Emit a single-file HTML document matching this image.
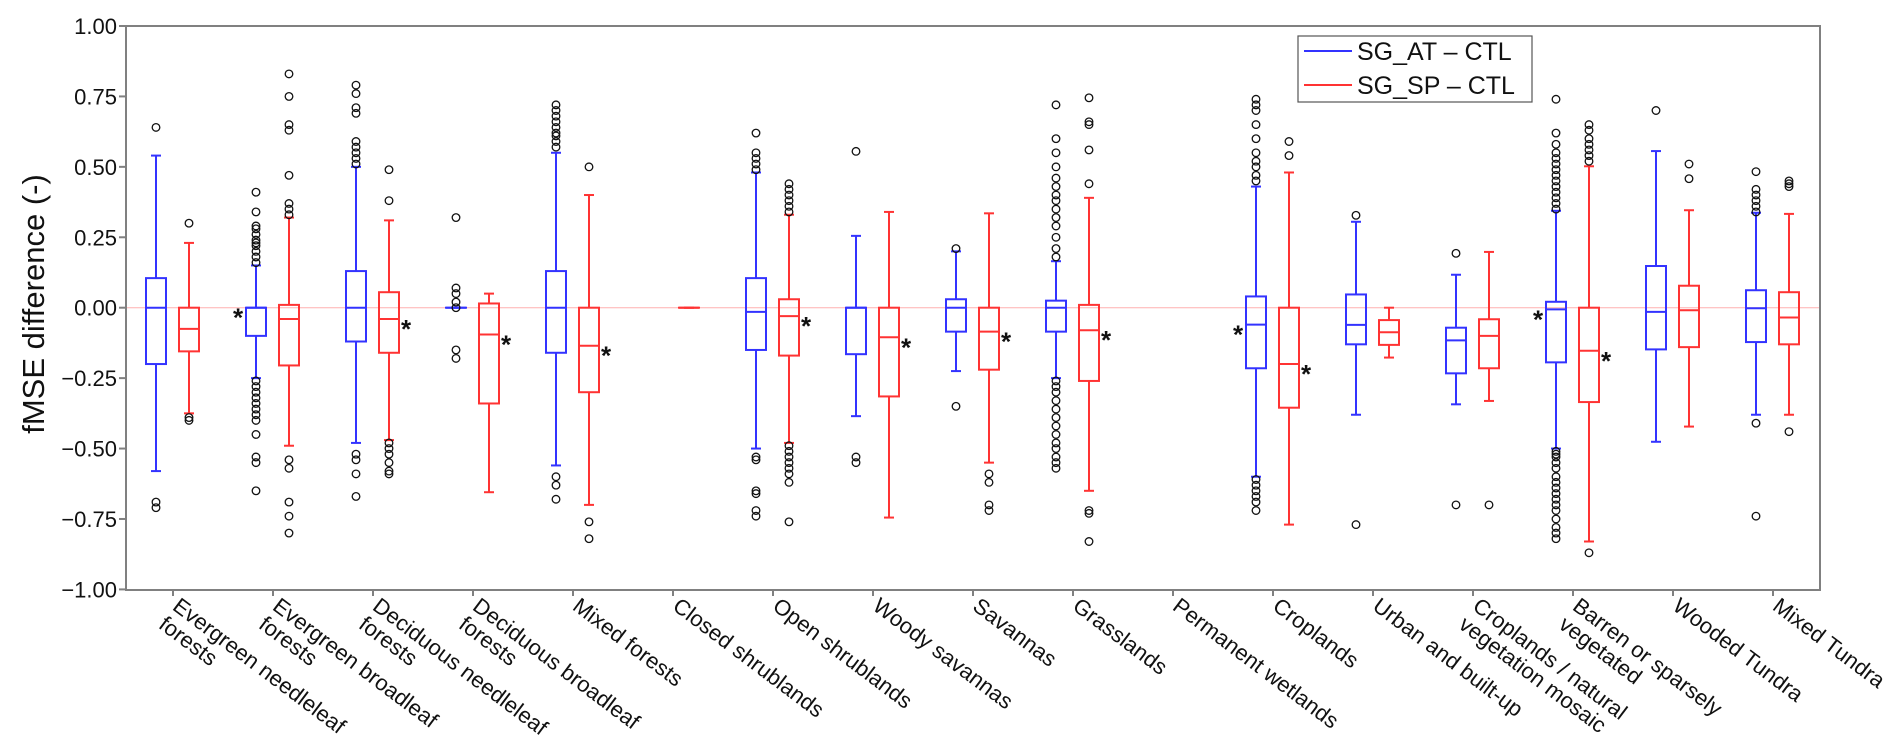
<!DOCTYPE html>
<html><head><meta charset="utf-8"><style>
html,body{margin:0;padding:0;background:#fff;}
svg{display:block;font-family:"Liberation Sans",sans-serif;}
</style></head><body>
<svg id="chart" width="1892" height="743" viewBox="0 0 1892 743" xmlns="http://www.w3.org/2000/svg"></svg>
<script>
const categories=["Evergreen needleleaf|forests","Evergreen broadleaf|forests","Deciduous needleleaf|forests","Deciduous broadleaf|forests","Mixed forests","Closed shrublands","Open shrublands","Woody savannas","Savannas","Grasslands","Permanent wetlands","Croplands","Urban and built-up","Croplands / natural|vegetation mosaic","Barren or sparsely|vegetated","Wooded Tundra","Mixed Tundra"];
const yTicks=[1,0.75,0.5,0.25,0,-0.25,-0.5,-0.75,-1];
const yTickLabels=["1.00","0.75","0.50","0.25","0.00","\u22120.25","\u22120.50","\u22120.75","\u22121.00"];
// SG_AT - CTL (blue)
const atQ1=[-0.20,-0.10,-0.12,0,-0.16,null,-0.15,-0.165,-0.085,-0.085,null,-0.215,-0.13,-0.233,-0.194,-0.148,-0.122];
const atMed=[0,0,0,0,0,null,-0.015,0,0,0,null,-0.06,-0.061,-0.116,-0.006,-0.015,-0.002];
const atQ3=[0.105,0,0.13,0,0.13,null,0.105,0,0.03,0.025,null,0.04,0.047,-0.071,0.021,0.148,0.062];
const atWlo=[-0.58,-0.25,-0.48,0,-0.56,null,-0.50,-0.385,-0.225,-0.25,null,-0.60,-0.38,-0.343,-0.50,-0.476,-0.38];
const atWhi=[0.54,0.15,0.50,0,0.55,null,0.48,0.255,0.20,0.165,null,0.43,0.305,0.117,0.344,0.556,0.337];
const atFliers=[[0.64,-0.69,-0.71],[0.16,0.18,0.2,0.22,0.23,0.24,0.26,0.28,0.29,0.34,0.41,-0.26,-0.28,-0.3,-0.32,-0.34,-0.36,-0.38,-0.40,-0.45,-0.53,-0.55,-0.65],[0.51,0.53,0.55,0.57,0.59,0.69,0.71,0.76,0.79,-0.52,-0.54,-0.59,-0.67],[0.32,0.07,0.05,0.02,0,-0.15,-0.18],[0.57,0.59,0.61,0.62,0.64,0.66,0.68,0.70,0.72,-0.60,-0.63,-0.68],[],[0.49,0.51,0.53,0.55,0.62,-0.53,-0.54,-0.65,-0.66,-0.72,-0.74],[0.555,-0.53,-0.55],[0.21,-0.35],[0.18,0.21,0.25,0.29,0.32,0.35,0.38,0.4,0.43,0.46,0.5,0.55,0.6,0.72,-0.26,-0.28,-0.3,-0.33,-0.36,-0.39,-0.42,-0.45,-0.48,-0.5,-0.53,-0.55,-0.57],[],[0.45,0.47,0.5,0.52,0.55,0.6,0.65,0.7,0.72,0.74,-0.61,-0.63,-0.65,-0.67,-0.69,-0.72],[0.328,-0.77],[0.193,-0.70],[0.35,0.37,0.39,0.41,0.43,0.45,0.47,0.49,0.51,0.53,0.55,0.58,0.62,0.74,-0.51,-0.52,-0.53,-0.55,-0.57,-0.6,-0.62,-0.64,-0.66,-0.68,-0.7,-0.72,-0.75,-0.78,-0.8,-0.82],[0.70],[0.34,0.36,0.38,0.40,0.42,0.483,-0.41,-0.74]];
// SG_SP - CTL (red)
const spQ1=[-0.155,-0.205,-0.16,-0.34,-0.30,0,-0.17,-0.315,-0.22,-0.26,null,-0.355,-0.132,-0.215,-0.335,-0.14,-0.13];
const spMed=[-0.075,-0.04,-0.04,-0.095,-0.135,0,-0.03,-0.105,-0.085,-0.08,null,-0.20,-0.087,-0.10,-0.153,-0.009,-0.035];
const spQ3=[0,0.01,0.055,0.015,0,0,0.03,0,0,0.01,null,0,-0.044,-0.041,0,0.078,0.055];
const spWlo=[-0.375,-0.49,-0.47,-0.655,-0.70,0,-0.48,-0.745,-0.55,-0.65,null,-0.77,-0.177,-0.331,-0.83,-0.422,-0.38];
const spWhi=[0.23,0.32,0.31,0.05,0.40,0,0.33,0.34,0.335,0.39,null,0.48,0,0.198,0.502,0.346,0.333];
const spFliers=[[0.30,-0.39,-0.40],[0.33,0.35,0.37,0.47,0.63,0.65,0.75,0.83,-0.54,-0.57,-0.69,-0.74,-0.80],[0.38,0.49,-0.48,-0.5,-0.52,-0.55,-0.58,-0.59],[],[0.50,-0.76,-0.82],[],[0.34,0.36,0.38,0.40,0.42,0.44,-0.49,-0.51,-0.53,-0.55,-0.57,-0.59,-0.62,-0.76],[],[-0.59,-0.62,-0.70,-0.72],[0.44,0.56,0.65,0.66,0.745,-0.72,-0.73,-0.83],[],[0.54,0.59],[],[-0.70],[0.52,0.54,0.56,0.58,0.6,0.63,0.65,-0.87],[0.458,0.51],[0.43,0.44,0.45,-0.44]];
const atStar=[0,1,0,0,0,0,0,0,0,0,0,1,0,0,1,0,0];
const spStar=[0,0,1,1,1,0,1,1,1,1,0,1,0,0,1,0,0];

const NS="http://www.w3.org/2000/svg";
const svg=document.getElementById('chart');
const L=126,R=1820,T=26,B=590;
const y=v=>307.7-v*281.7;
const xc=i=>173+100*i;
function mk(tag,attrs,parent){const e=document.createElementNS(NS,tag);for(const k in attrs)e.setAttribute(k,attrs[k]);(parent||svg).appendChild(e);return e;}

// zero line
const z=mk('line',{x1:L,x2:R,y1:y(0),y2:y(0),stroke:'#ffb0b0','stroke-width':1});



// y ticks
yTicks.forEach((v,k)=>{
  const t=mk('line',{x1:L-7,x2:L,y1:y(v),y2:y(v),stroke:'#808080','stroke-width':2});
  
  
  const tx=mk('text',{x:L-9,y:y(v)+8,'text-anchor':'end','font-size':22,fill:'#111'});
  tx.textContent=yTickLabels[k];
  
  
});
const yl=mk('text',{x:0,y:0,'text-anchor':'middle','font-size':31,fill:'#111',transform:'translate(44,304) rotate(-90)'});
yl.textContent='fMSE difference (-)';



// x ticks & labels
categories.forEach((c,i)=>{
  const t=mk('line',{x1:xc(i),x2:xc(i),y1:B,y2:B+6,stroke:'#808080','stroke-width':2});
  
  
  const g=mk('text',{'font-size':22,fill:'#111',transform:`translate(${xc(i)+2},${B+14}) rotate(37)`});
  
  
  c.split('|').forEach((ln,j)=>{const s=mk('tspan',{x:0,y:j*23+6},g);s.textContent=ln;});
});

function drawBox(i,off,col,q1,med,q3,wlo,whi,fl,star,side,name){
  if(q1[i]===null)return;
  const cx=xc(i)+off,w=20;
  const g=mk('g',{stroke:col,'stroke-width':2,fill:'none'});
  
  
  mk('line',{x1:cx,x2:cx,y1:y(q3[i]),y2:y(whi[i])},g);
  mk('line',{x1:cx,x2:cx,y1:y(q1[i]),y2:y(wlo[i])},g);
  mk('line',{x1:cx-5,x2:cx+5,y1:y(whi[i]),y2:y(whi[i])},g);
  mk('line',{x1:cx-5,x2:cx+5,y1:y(wlo[i]),y2:y(wlo[i])},g);
  mk('rect',{x:cx-w/2,y:y(q3[i]),width:w,height:Math.max(0.01,y(q1[i])-y(q3[i]))},g);
  mk('line',{x1:cx-w/2,x2:cx+w/2,y1:y(med[i]),y2:y(med[i])},g);
  fl[i].forEach(v=>{
    const c=mk('circle',{cx:cx,cy:y(v),r:3.8,fill:'none',stroke:'#111','stroke-width':1.3});
    
    
  });
  if(star[i]){
    const s=mk('text',{x:side<0?cx-w/2-13:cx+w/2+2,y:y(med[i])+19,'font-size':26,'font-weight':'bold',fill:'#111'});
    s.textContent='*';
    
    
  }
}
categories.forEach((c,i)=>{
  drawBox(i,-17,'#3333ff',atQ1,atMed,atQ3,atWlo,atWhi,atFliers,atStar,-1,'box-sg-at');
  drawBox(i,16,'#ff3333',spQ1,spMed,spQ3,spWlo,spWhi,spFliers,spStar,1,'box-sg-sp');
});

// frame
const fr=mk('rect',{x:L,y:T,width:R-L,height:B-T,fill:'none',stroke:'#808080','stroke-width':2});



// legend
const lg=mk('g',{});


mk('rect',{x:1298,y:36,width:234,height:66,fill:'#fff',stroke:'#555','stroke-width':1.2},lg);
const le1=mk('g',{},lg);


mk('line',{x1:1304,x2:1352,y1:51,y2:51,stroke:'#3333ff','stroke-width':2},le1);
const t1=mk('text',{x:1357,y:60,'font-size':25,fill:'#111'},le1);t1.textContent='SG_AT \u2013 CTL';
const le2=mk('g',{},lg);


mk('line',{x1:1304,x2:1352,y1:85,y2:85,stroke:'#ff3333','stroke-width':2},le2);
const t2=mk('text',{x:1357,y:94,'font-size':25,fill:'#111'},le2);t2.textContent='SG_SP \u2013 CTL';
</script>
</body></html>
